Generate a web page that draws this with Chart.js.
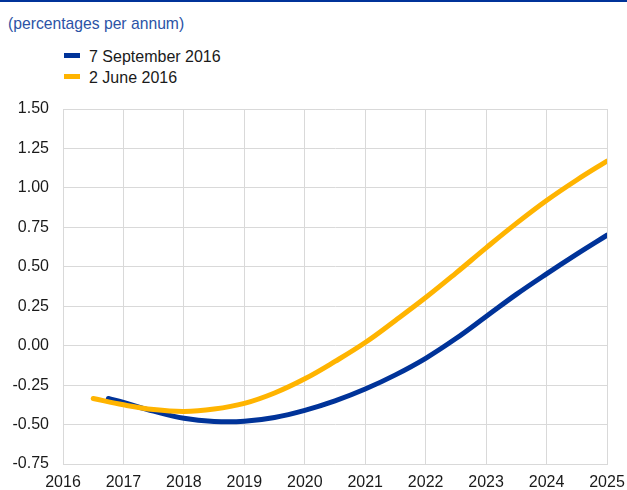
<!DOCTYPE html>
<html>
<head>
<meta charset="utf-8">
<script src="https://cdn.jsdelivr.net/npm/chart.js@4.4.0/dist/chart.umd.min.js"></script>
<style>
  html, body { margin: 0; padding: 0; background: #fff; }
  body { width: 627px; height: 490px; position: relative; overflow: hidden; font-family: "Liberation Sans", Arial, sans-serif; }
  #topRule { position: absolute; left: 0; top: 0; width: 627px; height: 2px; background: #003399; }
  #unit { position: absolute; left: 8px; top: 15px; font-size: 15.7px; color: #2c53a6; }
  .leg { position: absolute; left: 64px; font-size: 16px; color: #1a1a1a; line-height: 18px; }
  .leg i { display: inline-block; width: 16px; height: 5px; margin-right: 9px; vertical-align: middle; position: relative; top: -2px; }
  #chartWrap { position: absolute; left: 0; top: 0; width: 627px; height: 490px; }
  canvas { display: block; }
</style>
</head>
<body>
<div id="topRule"></div>
<div id="unit">(percentages per annum)</div>
<div class="leg" style="top:48px"><i style="background:#003399"></i>7 September 2016</div>
<div class="leg" style="top:69px"><i style="background:#ffb400"></i>2 June 2016</div>
<div id="chartWrap"><canvas id="curveChart" width="627" height="490"></canvas></div>
<script>
// forward curves
const SERIES_LABELS = ['7 September 2016', '2 June 2016'];
const SEPT_X = [2016.75, 2017, 2017.5, 2018, 2018.5, 2019, 2019.5, 2020, 2020.5, 2021, 2021.5, 2022, 2022.5, 2023, 2023.5, 2024, 2024.5, 2025];
const SEPT_Y = [-0.335, -0.36, -0.415, -0.46, -0.48, -0.479, -0.455, -0.41, -0.35, -0.275, -0.185, -0.08, 0.045, 0.185, 0.325, 0.455, 0.58, 0.70];
const JUNE_X = [2016.5, 2017, 2017.5, 2018, 2018.5, 2019, 2019.5, 2020, 2020.5, 2021, 2021.5, 2022, 2022.5, 2023, 2023.5, 2024, 2024.5, 2025];
const JUNE_Y = [-0.335, -0.375, -0.405, -0.417, -0.402, -0.366, -0.30, -0.21, -0.10, 0.02, 0.16, 0.305, 0.46, 0.62, 0.775, 0.92, 1.05, 1.17];
const X_MIN = 2016, X_MAX = 2025;
const Y_MIN = -0.75, Y_MAX = 1.5, Y_STEP = 0.25;

const GRID = '#d9d9d9';
const TICK = '#1a1a1a';

const pts = (xs, ys) => xs.map((x, i) => ({ x: x, y: ys[i] }));

new Chart(document.getElementById('curveChart').getContext('2d'), {
    type: 'line',
    data: {
        datasets: [
            { label: SERIES_LABELS[0], data: pts(SEPT_X, SEPT_Y), borderColor: '#003399', borderWidth: 5, pointRadius: 0, tension: 0.4, borderCapStyle: 'round', order: 1 },
            { label: SERIES_LABELS[1], data: pts(JUNE_X, JUNE_Y), borderColor: '#ffb400', borderWidth: 5, pointRadius: 0, tension: 0.4, borderCapStyle: 'round', order: 0 }
        ]
    },
    options: {
        responsive: false,
        animation: false,
        layout: { padding: { top: 109, right: 0, left: 0, bottom: 0 } },
        plugins: { legend: { display: false }, tooltip: { enabled: false } },
        scales: {
            x: {
                type: 'linear', min: X_MIN, max: X_MAX,
                afterFit: s => { s.height = 26; s.paddingRight = 20; s.paddingLeft = 0; },
                grid: { color: GRID, drawTicks: false },
                border: { color: GRID },
                ticks: { stepSize: 1, padding: 9, maxRotation: 0, color: TICK, font: { size: 16, family: 'Liberation Sans' }, callback: v => String(v) }
            },
            y: {
                min: Y_MIN, max: Y_MAX,
                afterFit: s => { s.width = 63; },
                grid: { color: GRID, drawTicks: false },
                border: { color: GRID },
                ticks: { stepSize: Y_STEP, padding: 14, color: TICK, font: { size: 16, family: 'Liberation Sans' }, callback: v => v.toFixed(2) }
            }
        }
    }
});
</script>
</body>
</html>
